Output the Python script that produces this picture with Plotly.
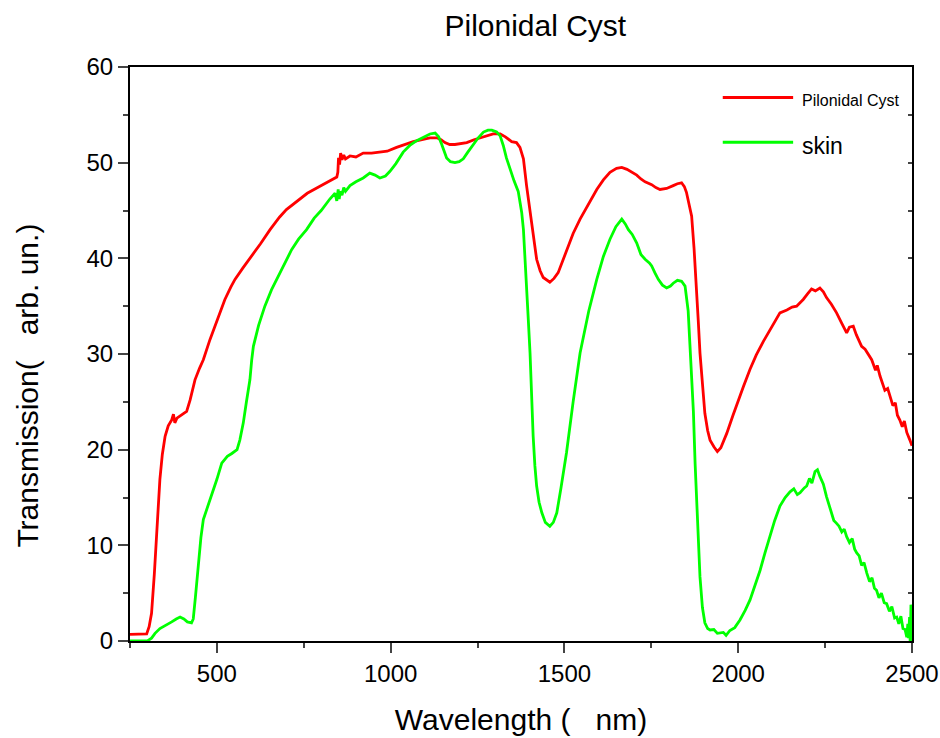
import plotly.graph_objects as go

# Pilonidal Cyst transmission
cyst_nm = [250, 270, 298, 305, 312, 320, 327, 336, 343, 351, 360, 370, 375, 379, 385, 394, 405, 413, 423, 437,
           450, 461, 480, 495, 510, 523, 540, 552, 575, 600, 625, 653, 680, 700, 730, 760, 790, 820, 845, 848,
           850, 853, 856, 860, 865, 870, 883, 900, 921, 945, 969, 990, 1017, 1040, 1065, 1090, 1113, 1133, 1145,
           1156, 1170, 1185, 1200, 1219, 1240, 1257, 1275, 1295, 1315, 1330, 1348, 1362, 1372, 1382, 1391, 1399,
           1406, 1413, 1420, 1430, 1439, 1458, 1470, 1482, 1494, 1506, 1525, 1545, 1570, 1593, 1612, 1631, 1650,
           1665, 1680, 1695, 1708, 1720, 1732, 1751, 1763, 1775, 1794, 1813, 1825, 1837, 1845, 1851, 1858, 1866,
           1873, 1880, 1885, 1890, 1897, 1904, 1912, 1919, 1930, 1940, 1950, 1967, 1985, 2000, 2015, 2034, 2052,
           2072, 2095, 2120, 2140, 2155, 2168, 2187, 2200, 2211, 2222, 2235, 2245, 2254, 2268, 2283, 2298, 2312,
           2320, 2331, 2340, 2355, 2365, 2375, 2384, 2395, 2400, 2408, 2415, 2422, 2430, 2437, 2445, 2452, 2458,
           2465, 2472, 2478, 2485, 2494, 2500]
cyst_t = [0.7, 0.7, 0.75, 1.5, 2.9, 7.0, 11.6, 16.9, 19.5, 21.4, 22.5, 23.1, 23.7, 22.8, 23.3, 23.5, 23.8, 24.0, 25.2, 27.3,
          28.5, 29.4, 31.5, 32.9, 34.3, 35.7, 37.0, 37.8, 39.0, 40.2, 41.5, 43.0, 44.3, 45.1, 46.0, 46.8, 47.4, 48.0, 48.5, 49.0,
          50.5, 49.8, 51.0, 50.3, 50.8, 50.4, 50.7, 50.6, 51.0, 51.0, 51.1, 51.2, 51.6, 51.9, 52.2, 52.4, 52.6, 52.6, 52.4,
          52.1, 51.9, 51.9, 52.0, 52.1, 52.4, 52.6, 52.8, 53.0, 53.0, 52.7, 52.2, 52.1, 51.6, 50.4, 47.6, 45.5,
          44.1, 41.8, 39.9, 38.7, 38.0, 37.5, 37.9, 38.5, 39.6, 40.9, 42.6, 44.1, 45.8, 47.2, 48.2, 49.0, 49.4,
          49.5, 49.3, 49.0, 48.7, 48.3, 48.0, 47.7, 47.4, 47.2, 47.3, 47.6, 47.8, 47.9, 47.5, 46.9, 45.8, 44.4,
          41.0, 37.1, 33.5, 30.1, 26.5, 23.8, 22.0, 21.0, 20.3, 19.8, 20.2, 21.7, 23.6, 25.0, 26.6, 28.4, 29.9,
          31.3, 32.8, 34.3, 34.6, 34.9, 35.0, 35.7, 36.3, 36.8, 36.6, 36.9, 36.5, 35.9, 35.2, 34.3, 33.2, 32.2,
          32.8, 32.9, 32.0, 30.8, 30.5, 29.9, 29.4, 28.3, 28.8, 27.7, 27.0, 26.2, 26.4, 25.6, 24.6, 24.9, 23.6,
          23.1, 22.4, 23.0, 21.8, 21.0, 20.4]

# skin transmission
skin_nm = [250, 300, 312, 322, 336, 352, 370, 383, 394, 405, 415, 427, 432, 438, 447, 454, 461, 473, 485, 500,
           514, 530, 543, 558, 566, 576, 585, 595, 600, 605, 620, 638, 657, 677, 695, 715, 735, 758, 780, 800,
           825, 840, 845, 849, 852, 855, 860, 865, 870, 883, 900, 921, 940, 955, 969, 985, 998, 1015, 1036, 1055,
           1075, 1095, 1113, 1128, 1138, 1147, 1154, 1161, 1172, 1185, 1197, 1209, 1222, 1238, 1252, 1267, 1280,
           1291, 1305, 1315, 1324, 1333, 1343, 1355, 1367, 1377, 1382, 1386, 1391, 1396, 1401, 1405, 1410, 1415,
           1420, 1427, 1435, 1445, 1458, 1468, 1478, 1490, 1506, 1525, 1545, 1570, 1593, 1612, 1631, 1648, 1665,
           1675, 1684, 1695, 1708, 1720, 1732, 1745, 1751, 1760, 1770, 1782, 1794, 1805, 1813, 1825, 1837, 1847,
           1856, 1861, 1866, 1871, 1876, 1880, 1885, 1890, 1897, 1904, 1912, 1919, 1930, 1940, 1957, 1965, 1976,
           1990, 2005, 2020, 2034, 2048, 2063, 2077, 2091, 2105, 2120, 2135, 2149, 2160, 2170, 2178, 2190, 2197,
           2205, 2212, 2221, 2228, 2235, 2245, 2254, 2268, 2275, 2283, 2290, 2298, 2305, 2312, 2320, 2328, 2335,
           2341, 2348, 2355, 2362, 2370, 2378, 2385, 2392, 2398, 2405, 2412, 2420, 2427, 2435, 2442, 2450, 2456,
           2462, 2468, 2474, 2480, 2485, 2488, 2490, 2493, 2495, 2497, 2499, 2500]
skin_t = [0.0, 0.0, 0.3, 0.8, 1.3, 1.6, 2.0, 2.3, 2.5, 2.3, 2.0, 1.9, 2.3, 4.5, 8.1, 10.8, 12.7, 14.0, 15.1, 16.9,
          18.6, 19.3, 19.6, 20.0, 21.0, 22.8, 25.0, 27.3, 29.3, 30.8, 33.0, 35.0, 36.7, 38.1, 39.5, 40.9, 42.0, 43.0, 44.2, 45.0,
          46.2, 46.8, 46.0, 47.2, 46.2, 47.0, 46.6, 47.4, 47.0, 47.6, 48.0, 48.4, 48.9, 48.7, 48.4, 48.6, 49.1, 49.9, 51.1, 51.8,
          52.3, 52.7, 53.0, 53.1, 52.7, 51.9, 51.2, 50.5, 50.1, 50.0, 50.1, 50.4, 51.1, 51.9, 52.6, 53.2, 53.4,
          53.4, 53.2, 52.8, 51.8, 50.5, 49.3, 48.1, 47.0, 44.8, 43.0, 40.6, 37.1, 33.6, 30.1, 26.0, 21.4, 18.3,
          16.2, 14.5, 13.4, 12.4, 12.0, 12.4, 13.4, 16.0, 19.7, 25.0, 30.1, 34.5, 37.8, 40.2, 42.0, 43.3, 44.1,
          43.6, 43.0, 42.5, 41.6, 40.4, 39.9, 39.5, 39.2, 38.5, 37.8, 37.2, 36.9, 37.1, 37.4, 37.7, 37.6, 37.1,
          34.5, 31.0, 27.5, 24.0, 18.5, 15.5, 10.6, 6.7, 3.5, 1.9, 1.3, 1.15, 1.2, 0.8, 0.9, 0.6, 1.1,
          1.4, 2.2, 3.2, 4.3, 5.8, 7.4, 9.2, 10.9, 12.6, 14.1, 15.0, 15.6, 15.9, 15.3, 15.5, 16.0, 16.2,
          17.0, 16.5, 17.7, 17.9, 17.2, 16.4, 15.1, 13.5, 12.6, 12.3, 12.0, 11.4, 11.7, 10.9, 10.3, 10.7, 9.6,
          9.2, 8.9, 7.9, 8.2, 7.1, 6.2, 6.6, 5.5, 5.3, 4.5, 5.0, 4.0, 3.9, 3.1, 3.6, 2.4, 2.5,
          1.8, 2.6, 1.3, 1.2, 0.4, 1.8, 0.3, 2.5, -0.5, 3.8, 0.5, -0.3]

x_ticks = [500, 1000, 1500, 2000, 2500]
y_ticks = [0, 10, 20, 30, 40, 50, 60]

FONT = "Liberation Sans, Arial, sans-serif"
RED = "#ff0000"
GREEN = "#00ff00"

fig = go.Figure()
fig.add_trace(go.Scatter(x=cyst_nm, y=cyst_t, mode="lines", name="Pilonidal Cyst",
                         line=dict(color=RED, width=2.8), showlegend=False))
fig.add_trace(go.Scatter(x=skin_nm, y=skin_t, mode="lines", name="skin",
                         line=dict(color=GREEN, width=2.8), showlegend=False))
# invisible trace holding the mirrored right axis
fig.add_trace(go.Scatter(x=[250], y=[0], yaxis="y2", mode="markers",
                         marker=dict(opacity=0), showlegend=False, hoverinfo="skip"))

fig.update_layout(
    width=940, height=738,
    margin=dict(l=130, r=28, t=67, b=97, autoexpand=False),
    paper_bgcolor="white", plot_bgcolor="white",
    font=dict(family=FONT, color="black"),
    title=dict(text="Pilonidal Cyst", x=0.5695, xanchor="center", y=0.966, yanchor="middle",
               font=dict(size=30, family=FONT)),
    xaxis=dict(range=[250, 2500], tickvals=x_ticks, ticks="outside", ticklen=10, tickwidth=2,
               minor=dict(dtick=250, ticks="outside", ticklen=5, tickwidth=2, tick0=0),
               showline=True, linewidth=2, linecolor="black", mirror=True, automargin=False,
               showgrid=False, zeroline=False, tickfont=dict(size=24),
               title=dict(text="Wavelength (   nm)", font=dict(size=30), standoff=23)),
    yaxis=dict(range=[0, 60], tickvals=y_ticks, ticks="outside", ticklen=10, tickwidth=2,
               minor=dict(dtick=5, ticks="outside", ticklen=5, tickwidth=2),
               showline=True, linewidth=2, linecolor="black", mirror=True, automargin=False,
               showgrid=False, zeroline=False, tickfont=dict(size=24)),
    yaxis2=dict(range=[0, 60], overlaying="y", side="right", showticklabels=False, automargin=False,
                ticks="inside", ticklen=4, tickwidth=1.5, dtick=5, showgrid=False,
                zeroline=False, showline=False),
)

# y-axis title (placed lower than centre, as in the original)
fig.add_annotation(xref="paper", yref="paper", x=-0.1304, y=0.445, text="Transmission(   arb. un.)",
                   textangle=-90, showarrow=False, xanchor="center", yanchor="middle",
                   font=dict(size=30))

# legend drawn in the plot corner
fig.add_shape(type="line", xref="paper", yref="paper", x0=0.758, x1=0.848, y0=0.947, y1=0.947,
              line=dict(color=RED, width=3))
fig.add_shape(type="line", xref="paper", yref="paper", x0=0.758, x1=0.848, y0=0.869, y1=0.869,
              line=dict(color=GREEN, width=3))
fig.add_annotation(xref="paper", yref="paper", x=0.857, y=0.941, text="Pilonidal Cyst",
                   showarrow=False, xanchor="left", yanchor="middle", font=dict(size=16))
fig.add_annotation(xref="paper", yref="paper", x=0.857, y=0.862, text="skin",
                   showarrow=False, xanchor="left", yanchor="middle", font=dict(size=23))

fig.write_html("out.html")
